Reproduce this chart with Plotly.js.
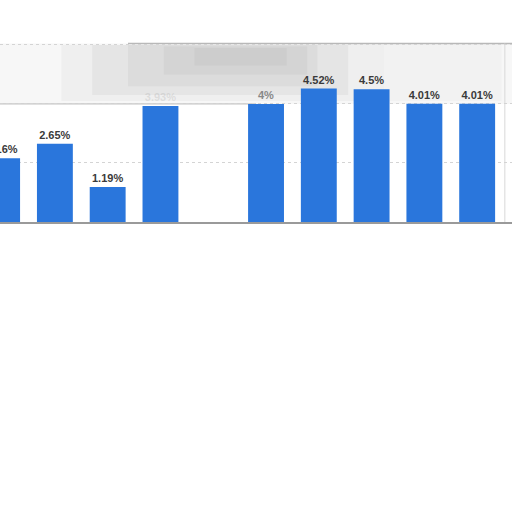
<!DOCTYPE html>
<html>
<head>
<meta charset="utf-8">
<script src="https://cdn.plot.ly/plotly-3.0.1.min.js"></script>
<style>html,body{margin:0;padding:0;background:#fff;}#chart{width:512px;height:512px;}</style>
</head>
<body>
<div id="chart"></div>
<script>
const categories = ['1','2','3','4','5','6','7','8','9','10'];
const values = [2.16, 2.65, 1.19, 3.93, null, 4.00, 4.52, 4.50, 4.01, 4.01];
const labels = ['2.16%', '2.65%', '1.19%', '3.93%', '', '4%', '4.52%', '4.5%', '4.01%', '4.01%'];
const labelColors = ['#3a3a3a','#3a3a3a','#3a3a3a','rgba(160,160,160,0.25)','#3a3a3a','#888','#3a3a3a','#3a3a3a','#3a3a3a','#3a3a3a'];

const trace = {
  type: 'bar',
  x: categories,
  y: values,
  text: labels,
  textposition: 'outside',
  cliponaxis: false,
  textfont: {family: 'Liberation Sans, Arial, sans-serif', size: 11, color: labelColors, weight: 'bold'},
  marker: {color: '#2a76dc'},
  hoverinfo: 'none'
};

function blur(x0, x1, y0, y1, a) {
  return {type: 'rect', xref: 'paper', yref: 'y', x0: x0, x1: x1, y0: y0, y1: y1, layer: 'below',
          fillcolor: 'rgba(150,150,150,' + a + ')', line: {width: 0}};
}

const layout = {
  width: 512, height: 512,
  margin: {l: 0, r: 0, t: 42, b: 290, pad: 0},
  paper_bgcolor: '#ffffff',
  plot_bgcolor: '#ffffff',
  bargap: 0.32,
  showlegend: false,
  xaxis: {type: 'category', range: [-0.04, 9.66], showticklabels: false, ticks: '', showgrid: false,
          zeroline: false, showline: true, linecolor: '#9a9a9a', linewidth: 1.5, automargin: false},
  yaxis: {range: [0, 6.1], showticklabels: false, ticks: '', showgrid: true, gridcolor: '#d4d4d4',
          griddash: 'dot', dtick: 2, zeroline: false, automargin: false},
  shapes: [
    blur(0.0, 1.0, 4.0, 6.05, 0.08),
    blur(0.12, 0.75, 4.1, 6.0, 0.08),
    blur(0.18, 0.68, 4.3, 6.0, 0.1),
    blur(0.25, 0.62, 4.6, 6.0, 0.1),
    blur(0.32, 0.6, 5.0, 5.95, 0.1),
    blur(0.38, 0.56, 5.3, 5.9, 0.1),
    blur(0.75, 0.98, 4.1, 6.0, 0.05),
    {type: 'line', xref: 'paper', yref: 'y', x0: 0.25, x1: 1, y0: 6.05, y1: 6.05, layer: 'below',
     line: {color: '#b8b8b8', width: 1.5}},
    {type: 'line', xref: 'paper', yref: 'y', x0: 0, x1: 0.5, y0: 4.0, y1: 4.0, layer: 'below',
     line: {color: '#c4c4c4', width: 1.2}},
    {type: 'line', xref: 'paper', yref: 'y', x0: 0.986, x1: 0.986, y0: 0, y1: 6.05, layer: 'below',
     line: {color: '#d8d8d8', width: 1}}
  ]
};

Plotly.newPlot('chart', [trace], layout, {staticPlot: true, displayModeBar: false});
</script>
</body>
</html>
